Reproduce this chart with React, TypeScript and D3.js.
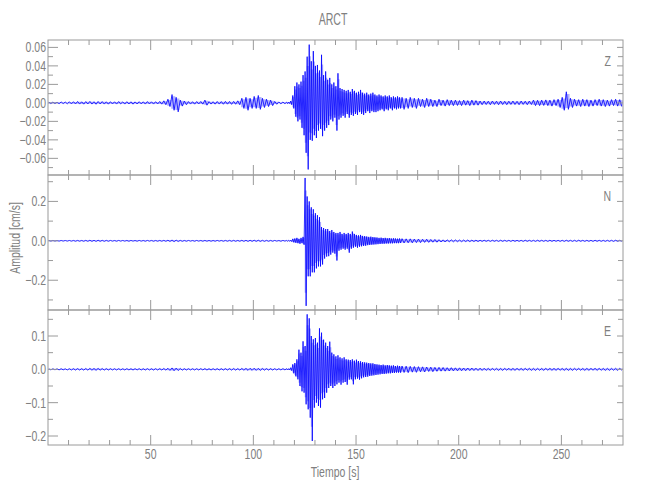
import React from "react";
import * as d3 from "d3";

// Sample grid (s): 2-s bins before and after the main arrival, 1-s bins during it
const timesPre = d3.range(0, 116, 2);
const timesMain = d3.range(116, 172, 1);
const timesPost = d3.range(172, 280, 2);
const sampleTimes = [...timesPre, ...timesMain, ...timesPost];
const timeEnd = 280;

// Z component: per-bin maximum / minimum (cm/s)
const zHi = [
  0.0008, 0.0009, 0.0008, 0.001, 0.0009, 0.0012, 0.0013, 0.0015, 0.0012, 0.0014,
  0.0016, 0.0013, 0.0015, 0.0014, 0.0012, 0.0013, 0.0012, 0.0014, 0.0011, 0.0013,
  0.0012, 0.0011, 0.0013, 0.0012, 0.0014, 0.0012, 0.0013, 0.0015, 0.0022, 0.004,
  0.009, 0.006, 0.003, 0.002, 0.0014, 0.0013, 0.0014, 0.0015, 0.003, 0.0014,
  0.0013, 0.0015, 0.0014, 0.0016, 0.0015, 0.0016, 0.0022, 0.005, 0.006, 0.005,
  0.007, 0.008, 0.005, 0.004, 0.003, 0.0016, 0.001, 0.0009,
  0.0008, 0.0009, 0.002, 0.008, 0.018, 0.022, 0.02, 0.023, 0.03, 0.034,
  0.05, 0.063, 0.045, 0.056, 0.04, 0.041, 0.035, 0.052, 0.03, 0.034,
  0.025, 0.027, 0.02, 0.022, 0.018, 0.032, 0.016, 0.015, 0.014, 0.013,
  0.014, 0.012, 0.015, 0.013, 0.011, 0.012, 0.014, 0.011, 0.01, 0.011,
  0.009, 0.01, 0.011, 0.009, 0.008, 0.009, 0.008, 0.007, 0.008, 0.007,
  0.008, 0.006, 0.007, 0.006, 0.007, 0.006,
  0.006, 0.005, 0.006, 0.005, 0.005, 0.004, 0.005, 0.004, 0.003, 0.004,
  0.003, 0.0035, 0.003, 0.003, 0.0025, 0.003, 0.0025, 0.003, 0.0025, 0.002,
  0.002, 0.0018, 0.002, 0.0018, 0.002, 0.0017, 0.0018, 0.002, 0.0017, 0.002,
  0.0018, 0.002, 0.003, 0.0028, 0.003, 0.0032, 0.003, 0.0035, 0.004, 0.006,
  0.012, 0.005, 0.004, 0.0035, 0.004, 0.0035, 0.003, 0.0035, 0.004, 0.0035,
  0.003, 0.0035, 0.004, 0.0035,
];
const zLo = [
  -0.0008, -0.0008, -0.0009, -0.0008, -0.001, -0.0011, -0.0012, -0.0013, -0.0014, -0.0012,
  -0.0013, -0.0015, -0.0012, -0.0013, -0.0014, -0.0012, -0.0013, -0.0011, -0.0013, -0.0012,
  -0.0014, -0.0012, -0.0011, -0.0013, -0.0012, -0.0013, -0.0012, -0.0014, -0.002, -0.004,
  -0.008, -0.0097, -0.0035, -0.002, -0.0013, -0.0014, -0.0012, -0.0014, -0.0025, -0.0013,
  -0.0014, -0.0013, -0.0015, -0.0014, -0.0016, -0.0015, -0.002, -0.006, -0.008, -0.006,
  -0.006, -0.007, -0.005, -0.004, -0.003, -0.0015, -0.001, -0.0009,
  -0.0008, -0.0008, -0.002, -0.006, -0.015, -0.02, -0.018, -0.027, -0.035, -0.054,
  -0.072, -0.04, -0.041, -0.035, -0.038, -0.03, -0.028, -0.036, -0.03, -0.027,
  -0.024, -0.018, -0.02, -0.016, -0.03, -0.018, -0.016, -0.014, -0.016, -0.012,
  -0.016, -0.013, -0.014, -0.012, -0.013, -0.01, -0.012, -0.013, -0.011, -0.009,
  -0.011, -0.009, -0.01, -0.01, -0.009, -0.008, -0.007, -0.009, -0.007, -0.008,
  -0.006, -0.008, -0.006, -0.007, -0.006, -0.006,
  -0.007, -0.006, -0.005, -0.006, -0.004, -0.005, -0.004, -0.004, -0.004, -0.003,
  -0.0035, -0.003, -0.003, -0.0028, -0.003, -0.0025, -0.003, -0.0025, -0.0025, -0.002,
  -0.0018, -0.002, -0.0017, -0.002, -0.0018, -0.002, -0.0017, -0.0018, -0.002, -0.0017,
  -0.002, -0.0018, -0.003, -0.003, -0.0028, -0.003, -0.0035, -0.003, -0.005, -0.008,
  -0.007, -0.005, -0.0035, -0.004, -0.0035, -0.004, -0.0035, -0.003, -0.0035, -0.004,
  -0.0035, -0.003, -0.0035, -0.004,
];

// N component
const nHi = [
  0.0015, 0.0018, 0.0015, 0.0017, 0.0016, 0.0018, 0.002, 0.0022, 0.002, 0.0025,
  0.003, 0.0028, 0.003, 0.0026, 0.0024, 0.002, 0.0018, 0.002, 0.0018, 0.002,
  0.0019, 0.0018, 0.002, 0.0019, 0.0021, 0.002, 0.0019, 0.0022, 0.0025, 0.003,
  0.004, 0.0035, 0.0025, 0.002, 0.0019, 0.0018, 0.002, 0.0019, 0.0022, 0.002,
  0.0019, 0.0021, 0.002, 0.0022, 0.0024, 0.0025, 0.0022, 0.0026, 0.0028, 0.003,
  0.0032, 0.003, 0.0026, 0.0024, 0.0022, 0.002, 0.0018, 0.002,
  0.002, 0.0025, 0.004, 0.01, 0.012, 0.015, 0.01, 0.015, 0.02, 0.319,
  0.225, 0.2, 0.17, 0.16, 0.14, 0.13, 0.12, 0.07, 0.065, 0.06,
  0.06, 0.05, 0.055, 0.045, 0.04, 0.04, 0.045, 0.035, 0.04, 0.035,
  0.04, 0.035, 0.047, 0.035, 0.03, 0.028, 0.03, 0.025, 0.024, 0.022,
  0.02, 0.021, 0.019, 0.018, 0.017, 0.015, 0.016, 0.014, 0.015, 0.013,
  0.014, 0.012, 0.013, 0.012, 0.011, 0.012,
  0.011, 0.01, 0.01, 0.009, 0.009, 0.008, 0.008, 0.007, 0.007, 0.006,
  0.005, 0.005, 0.005, 0.0045, 0.004, 0.004, 0.004, 0.0035, 0.0035, 0.003,
  0.003, 0.0028, 0.003, 0.0027, 0.003, 0.0028, 0.0026, 0.003, 0.0028, 0.0027,
  0.003, 0.0028, 0.0026, 0.003, 0.0028, 0.0027, 0.003, 0.0028, 0.0026, 0.0028,
  0.003, 0.0027, 0.0028, 0.003, 0.0026, 0.0028, 0.0027, 0.003, 0.0028, 0.0026,
  0.0028, 0.0027, 0.003, 0.0028,
];
const nLo = [
  -0.0016, -0.0015, -0.0018, -0.0016, -0.0017, -0.0019, -0.0021, -0.002, -0.0023, -0.0024,
  -0.0028, -0.003, -0.0027, -0.0025, -0.0022, -0.0019, -0.002, -0.0018, -0.0019, -0.0021,
  -0.0018, -0.002, -0.0019, -0.0021, -0.0019, -0.0021, -0.002, -0.002, -0.0024, -0.0032,
  -0.004, -0.0033, -0.0024, -0.0021, -0.0018, -0.002, -0.0019, -0.002, -0.002, -0.0021,
  -0.002, -0.0019, -0.0021, -0.0021, -0.0023, -0.0024, -0.0023, -0.0027, -0.003, -0.0028,
  -0.003, -0.0032, -0.0027, -0.0023, -0.0021, -0.0019, -0.002, -0.0018,
  -0.002, -0.002, -0.004, -0.008, -0.01, -0.012, -0.015, -0.012, -0.02, -0.33,
  -0.18, -0.18, -0.16, -0.16, -0.14, -0.13, -0.13, -0.12, -0.09, -0.08,
  -0.078, -0.07, -0.06, -0.065, -0.1, -0.05, -0.045, -0.04, -0.045, -0.04,
  -0.06, -0.04, -0.035, -0.03, -0.035, -0.03, -0.028, -0.026, -0.025, -0.022,
  -0.021, -0.02, -0.019, -0.018, -0.017, -0.016, -0.015, -0.015, -0.014, -0.014,
  -0.013, -0.013, -0.012, -0.012, -0.012, -0.011,
  -0.011, -0.01, -0.01, -0.009, -0.009, -0.008, -0.008, -0.007, -0.007, -0.006,
  -0.006, -0.005, -0.005, -0.0045, -0.0045, -0.004, -0.004, -0.0035, -0.0035, -0.003,
  -0.0028, -0.003, -0.0027, -0.003, -0.0028, -0.0026, -0.003, -0.0028, -0.0027, -0.003,
  -0.0028, -0.0026, -0.003, -0.0028, -0.0027, -0.003, -0.0028, -0.0026, -0.0028, -0.003,
  -0.0027, -0.0028, -0.003, -0.0026, -0.0028, -0.0027, -0.003, -0.0028, -0.0026, -0.0028,
  -0.0027, -0.003, -0.0028, -0.0026,
];

// E component
const eHi = [
  0.0015, 0.0017, 0.0016, 0.0018, 0.0017, 0.0019, 0.0021, 0.0024, 0.0022, 0.0026,
  0.003, 0.0027, 0.0029, 0.0025, 0.0023, 0.002, 0.0019, 0.002, 0.0018, 0.0021,
  0.0019, 0.002, 0.0021, 0.0019, 0.0022, 0.002, 0.0021, 0.0023, 0.0026, 0.0032,
  0.0042, 0.0036, 0.0026, 0.0021, 0.002, 0.0019, 0.002, 0.0021, 0.0023, 0.002,
  0.002, 0.0022, 0.0021, 0.0023, 0.0025, 0.0026, 0.0023, 0.0027, 0.003, 0.0031,
  0.0033, 0.003, 0.0027, 0.0024, 0.0022, 0.002, 0.0019, 0.002,
  0.002, 0.002, 0.005, 0.015, 0.019, 0.03, 0.059, 0.05, 0.084, 0.07,
  0.165, 0.153, 0.1, 0.09, 0.094, 0.08, 0.123, 0.11, 0.089, 0.08,
  0.07, 0.083, 0.05, 0.045, 0.039, 0.042, 0.036, 0.033, 0.036, 0.03,
  0.029, 0.028, 0.03, 0.026, 0.029, 0.025, 0.024, 0.022, 0.021, 0.02,
  0.019, 0.018, 0.018, 0.016, 0.015, 0.014, 0.013, 0.014, 0.012, 0.013,
  0.012, 0.011, 0.012, 0.01, 0.011, 0.01,
  0.01, 0.0095, 0.009, 0.0085, 0.008, 0.0075, 0.007, 0.0065, 0.006, 0.006,
  0.0055, 0.005, 0.005, 0.0045, 0.0045, 0.004, 0.004, 0.0038, 0.0035, 0.0035,
  0.0032, 0.003, 0.0032, 0.003, 0.0028, 0.003, 0.0032, 0.0029, 0.003, 0.0028,
  0.003, 0.0031, 0.0029, 0.003, 0.0028, 0.003, 0.0031, 0.0029, 0.003, 0.0028,
  0.003, 0.0029, 0.0031, 0.003, 0.0028, 0.003, 0.0029, 0.0031, 0.003, 0.0028,
  0.003, 0.0029, 0.0031, 0.003,
];
const eLo = [
  -0.0016, -0.0015, -0.0017, -0.0016, -0.0018, -0.002, -0.0022, -0.0021, -0.0024, -0.0025,
  -0.0028, -0.003, -0.0026, -0.0024, -0.0021, -0.0019, -0.002, -0.0019, -0.002, -0.0019,
  -0.0021, -0.0019, -0.002, -0.0021, -0.002, -0.0022, -0.002, -0.0021, -0.0025, -0.0034,
  -0.0042, -0.0035, -0.0025, -0.0021, -0.0019, -0.002, -0.002, -0.0019, -0.0022, -0.0021,
  -0.002, -0.0021, -0.0022, -0.0022, -0.0024, -0.0025, -0.0024, -0.0028, -0.0031, -0.003,
  -0.0032, -0.0031, -0.0026, -0.0023, -0.0021, -0.002, -0.0019, -0.0019,
  -0.002, -0.002, -0.004, -0.012, -0.021, -0.03, -0.05, -0.066, -0.07, -0.105,
  -0.12, -0.145, -0.215, -0.115, -0.1, -0.11, -0.115, -0.09, -0.086, -0.07,
  -0.056, -0.05, -0.056, -0.05, -0.045, -0.04, -0.046, -0.04, -0.038, -0.046,
  -0.031, -0.03, -0.045, -0.03, -0.028, -0.031, -0.027, -0.024, -0.023, -0.022,
  -0.02, -0.019, -0.018, -0.017, -0.016, -0.015, -0.014, -0.014, -0.013, -0.012,
  -0.012, -0.011, -0.011, -0.01, -0.01, -0.01,
  -0.0095, -0.01, -0.0085, -0.009, -0.0075, -0.008, -0.0065, -0.007, -0.006, -0.0055,
  -0.0055, -0.005, -0.0048, -0.0045, -0.0042, -0.004, -0.0038, -0.0036, -0.0035, -0.0033,
  -0.003, -0.0032, -0.0029, -0.003, -0.0031, -0.0028, -0.003, -0.0031, -0.0029, -0.003,
  -0.0028, -0.003, -0.0031, -0.0029, -0.003, -0.0028, -0.003, -0.0031, -0.0029, -0.003,
  -0.0031, -0.003, -0.0028, -0.0029, -0.0031, -0.003, -0.0028, -0.003, -0.0029, -0.0031,
  -0.003, -0.0028, -0.003, -0.0029,
];

const channelNames = ["Z", "N", "E"];
const yDomains: [number, number][] = [
  [-0.078, 0.068],
  [-0.351, 0.334],
  [-0.227, 0.178],
];
const yMajorSteps = [0.02, 0.2, 0.1];
const yMinorSteps = [0.01, 0.1, 0.05];
const yLabelFormats = [".2f", ".1f", ".1f"];
const xMajorTicks = [50, 100, 150, 200, 250];
const xMinorStep = 10;

const titleText = "ARCT";
const xTitle = "Tiempo  [s]";
const yTitle = "Amplitud  [cm/s]";

const W = 650;
const H = 500;
const left = 48;
const right = 623;
const panelTops = [40, 175, 310];
const panelH = 135;
const axisColor = "#9a9a9a";
const textColor = "#808080";
const traceColor = "#0000ff";
const font = "'Liberation Sans', Arial, sans-serif";

function stepTicks(domain: [number, number], step: number) {
  const out: number[] = [];
  const start = Math.ceil(domain[0] / step - 1e-9);
  const end = Math.floor(domain[1] / step + 1e-9);
  for (let k = start; k <= end; k++) out.push(+(k * step).toFixed(6));
  return out;
}

function Label(props: {
  x: number;
  y: number;
  anchor?: string;
  size?: number;
  sx?: number;
  rotate?: number;
  children: React.ReactNode;
}) {
  const { x, y, anchor = "start", size = 14, sx = 0.75, rotate = 0, children } = props;
  return (
    <text
      transform={`translate(${x},${y}) rotate(${rotate}) scale(${sx},1)`}
      textAnchor={anchor}
      fontSize={size}
      fill={textColor}
    >
      {children}
    </text>
  );
}

export default function App() {
  const x = d3.scaleLinear().domain([0, timeEnd]).range([left, right]);
  const series = [
    [zHi, zLo],
    [nHi, nLo],
    [eHi, eLo],
  ];
  const xMinor = d3.range(xMinorStep, timeEnd, xMinorStep).filter((t) => !xMajorTicks.includes(t));

  return (
    <svg
      width={W}
      height={H}
      style={{ position: "absolute", left: 0, top: 0, background: "#fff" }}
      fontFamily={font}
    >
      <defs>
        {panelTops.map((top, i) => (
          <clipPath id={`clip${i}`} key={i}>
            <rect x={left} y={top} width={right - left} height={panelH} />
          </clipPath>
        ))}
      </defs>
      <rect x={0} y={0} width={W} height={H} fill="#fff" />
      <Label x={333} y={25} anchor="middle" size={16} sx={0.66}>
        {titleText}
      </Label>
      {panelTops.map((top, i) => {
        const bottom = top + panelH;
        const y = d3.scaleLinear().domain(yDomains[i]).range([bottom, top]);
        const [hi, lo] = series[i];
        const pts: [number, number][] = [];
        const envPts: { t: number; hi: number; lo: number }[] = [];
        sampleTimes.forEach((t, k) => {
          const next = k + 1 < sampleTimes.length ? sampleTimes[k + 1] : timeEnd;
          const w = next - t;
          pts.push([t + w * 0.2, hi[k]]);
          pts.push([t + w * 0.7, lo[k]]);
          envPts.push({ t, hi: hi[k], lo: lo[k] });
          envPts.push({ t: next, hi: hi[k], lo: lo[k] });
        });
        const line = d3
          .line<[number, number]>()
          .x((d) => x(d[0]))
          .y((d) => y(d[1]));
        const area = d3
          .area<{ t: number; hi: number; lo: number }>()
          .x((d) => x(d.t))
          .y0((d) => y(d.lo * 0.8))
          .y1((d) => y(d.hi * 0.8));
        const majors = stepTicks(yDomains[i], yMajorSteps[i]);
        const minors = stepTicks(yDomains[i], yMinorSteps[i]).filter(
          (v) => !majors.some((m) => Math.abs(m - v) < 1e-6)
        );
        const fmt = d3.format(yLabelFormats[i]);
        return (
          <g key={i}>
            <g clipPath={`url(#clip${i})`}>
              <path d={area(envPts) || ""} fill={traceColor} fillOpacity={0.3} stroke="none" />
              <path d={line(pts) || ""} fill="none" stroke={traceColor} strokeWidth={0.8} />
            </g>
            <rect
              x={left}
              y={top}
              width={right - left}
              height={panelH}
              fill="none"
              stroke={axisColor}
              strokeWidth={1}
            />
            {xMajorTicks.map((t) => (
              <g key={`xm${t}`} stroke={axisColor}>
                <line x1={x(t)} x2={x(t)} y1={top} y2={top + 10} />
                <line x1={x(t)} x2={x(t)} y1={bottom} y2={bottom - 10} />
              </g>
            ))}
            {xMinor.map((t) => (
              <g key={`xn${t}`} stroke={axisColor}>
                <line x1={x(t)} x2={x(t)} y1={top} y2={top + 5} />
                <line x1={x(t)} x2={x(t)} y1={bottom} y2={bottom - 5} />
              </g>
            ))}
            {majors.map((v) => (
              <g key={`ym${v}`}>
                <line x1={left} x2={left + 10} y1={y(v)} y2={y(v)} stroke={axisColor} />
                <line x1={right} x2={right - 6} y1={y(v)} y2={y(v)} stroke={axisColor} />
                <Label x={left - 2} y={y(v) + 5} anchor="end">
                  {fmt(v)}
                </Label>
              </g>
            ))}
            {minors.map((v) => (
              <g key={`yn${v}`} stroke={axisColor}>
                <line x1={left} x2={left + 5} y1={y(v)} y2={y(v)} />
                <line x1={right} x2={right - 5} y1={y(v)} y2={y(v)} />
              </g>
            ))}
            <Label x={611} y={top + 26} anchor="end">
              {channelNames[i]}
            </Label>
          </g>
        );
      })}
      {xMajorTicks.map((t) => (
        <Label key={`xl${t}`} x={x(t)} y={459} anchor="middle">
          {t}
        </Label>
      ))}
      <Label x={335} y={477} anchor="middle">
        {xTitle}
      </Label>
      <Label x={20} y={238} anchor="middle" rotate={-90}>
        {yTitle}
      </Label>
    </svg>
  );
}
